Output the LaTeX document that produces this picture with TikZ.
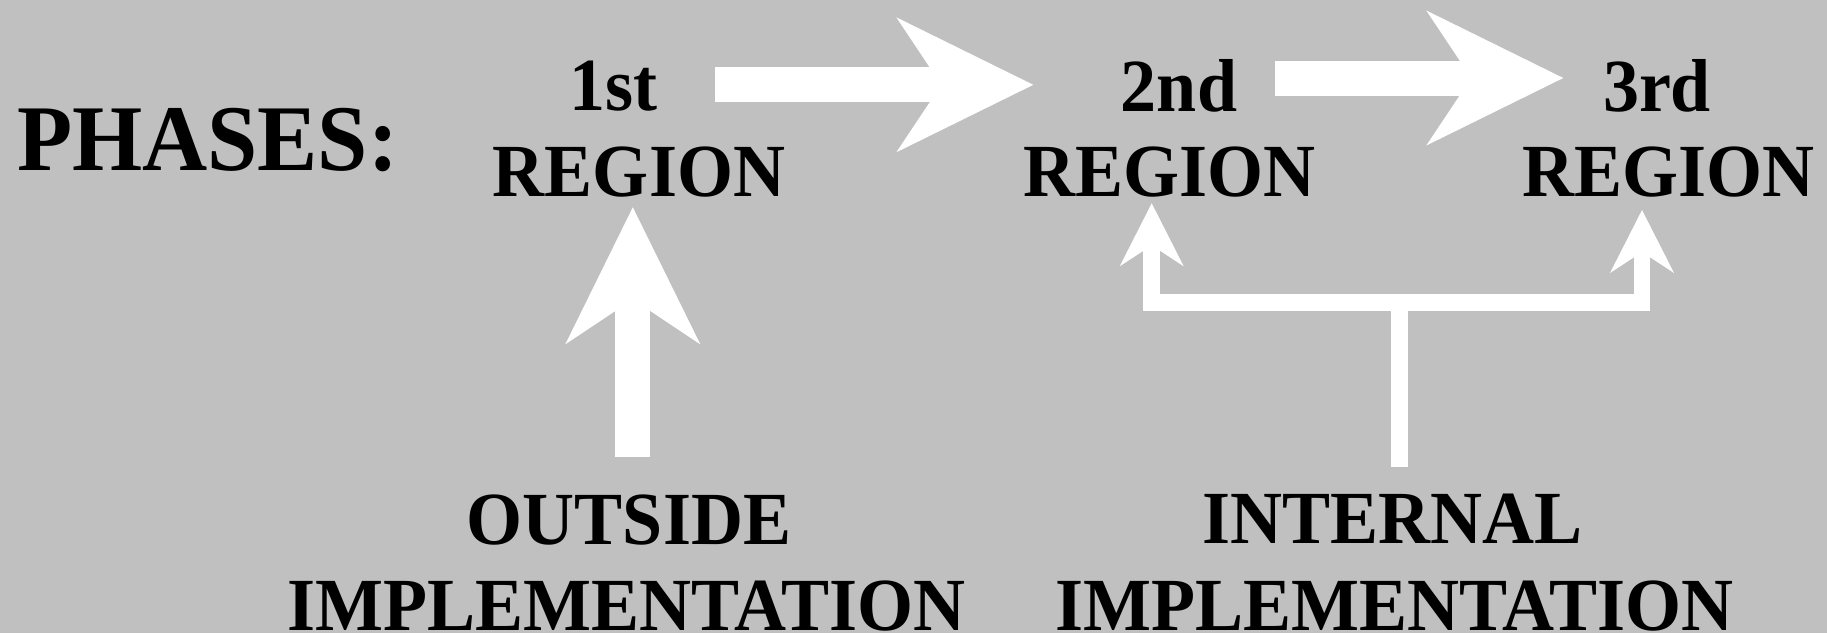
\documentclass[tikz,border=0pt]{standalone}
\usepackage{fontspec}
\setmainfont{Liberation Serif}[FakeStretch=0.96]
\usetikzlibrary{arrows.meta}
\definecolor{bg}{RGB}{192,192,192}
\begin{document}
\begin{tikzpicture}[x=1pt,y=-1pt,
  lbl/.style={inner sep=0pt, anchor=base, text=black,
    font=\bfseries\fontsize{75pt}{86pt}\selectfont},
  title/.style={inner sep=0pt, anchor=base west, text=black,
    font=\bfseries\fontsize{94pt}{100pt}\selectfont},
  bigarrow/.style={draw=white, line width=35pt, line cap=butt,
    -{Stealth[length=137pt,width=135pt,inset=45pt,line width=0pt]}},
  smallarrow/.style={draw=white, line width=16.7pt, line join=miter, line cap=butt,
    -{Stealth[length=63pt,width=64pt,inset=21pt,line width=0pt]}},
  bar/.style={draw=white, line width=16.7pt, line cap=butt}
]
\fill[bg] (0,0) rectangle (1827,633);
\useasboundingbox (0,0) rectangle (1827,633);

% labels
\node[title] (phases) at (16.8,170.7) {PHASES:};
\node[lbl] (n1) at (613,110.7) {1st};
\node[lbl] (r1) at (639,196.7) {REGION};
\node[lbl] (n2) at (1179,111) {2nd};
\node[lbl] (r2) at (1169.7,196.7) {REGION};
\node[lbl] (n3) at (1657,111) {3rd};
\node[lbl] (r3) at (1668.3,196.7) {REGION};
\node[lbl] (out) at (629,544) {OUTSIDE};
\node[lbl] (impo) at (626.5,630.7) {IMPLEMENTATION};
\node[lbl] (int) at (1392.2,543.5) {INTERNAL};
\node[lbl] (impi) at (1394.5,630.5) {IMPLEMENTATION};

% connector end points
\coordinate (a1s) at (715,84.8);
\coordinate (a1e) at (1033.3,84.8);
\coordinate (a2s) at (1275,78);
\coordinate (a2e) at (1563.3,78);
\coordinate (u1s) at (632.8,456.7);
\coordinate (u1e) at (632.8,207.3);
\coordinate (stembot) at (1399.5,466.7);
\coordinate (stemtop) at (1399.5,302.3);
\coordinate (t2) at (1151.7,203.3);
\coordinate (t3) at (1642,210);

% arrows
\draw[bigarrow] (a1s) -- (a1e);
\draw[bigarrow] (a2s) -- (a2e);
\draw[bigarrow] (u1s) -- (u1e);
\draw[bar] (stembot) -- (stemtop);
\draw[smallarrow] (stemtop) -| (t2);
\draw[smallarrow] (stemtop) -| (t3);
\end{tikzpicture}
\end{document}
